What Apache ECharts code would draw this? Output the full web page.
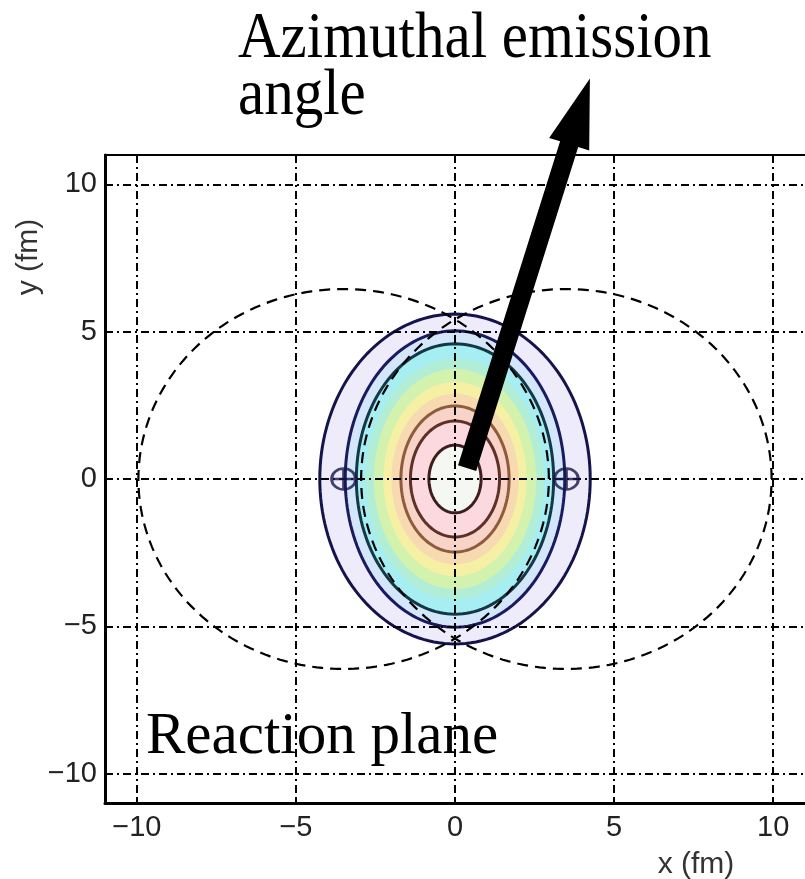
<!DOCTYPE html>
<html>
<head>
<meta charset="utf-8">
<title>Almond-shaped overlap region</title>
<script src="https://cdn.jsdelivr.net/npm/echarts@6/dist/echarts.min.js"></script>
<style>
  html, body { margin: 0; padding: 0; background: #fff; }
  #chart { width: 805px; height: 879px; }
</style>
</head>
<body>
<div id="chart"></div>
<script>
// Axis ticks (fm)
const xTicks = [-10, -5, 0, 5, 10];
const yTicks = [-10, -5, 0, 5, 10];
const axisMin = -11;
const axisMax = 11;

// Filled density bands of the overlap zone, outermost first: semi-axes along x and y (fm)
const bandA = [4.25, 3.45, 3.10, 2.80, 2.55, 2.25, 2.00, 1.70, 1.40, 0.82];
const bandB = [5.60, 5.03, 4.59, 4.08, 3.74, 3.30, 2.90, 2.48, 1.97, 1.15];
const bandColors = ['#eeebfa', '#d4e6fa', '#a6eef2', '#b2eed6', '#d2f2ae', '#f6f0a4',
                    '#f8dab2', '#f8d4c8', '#fbd9df', '#f5f7f3'];

// Contour lines drawn on top of the bands
const contourA = [4.25, 3.45, 3.10, 1.70, 1.40, 0.82];
const contourB = [5.60, 5.03, 4.59, 2.48, 1.97, 1.15];
const contourColors = ['#14144a', '#1a1a5e', '#123848', '#8e5c3c', '#5e3026', '#3c1e1c'];

// Colliding nuclei: centres on the x axis and radius (fm)
const nucleusX = [-3.5, 3.5];
const nucleusR = 6.45;

// Arrow marking the azimuthal emission direction: tail and tip (fm)
const arrowTail = [0.38, 0.37];
const arrowTip = [4.24, 13.6];

const minusSign = v => String(v).replace('-', '\u2212');

function ellipsePoints(api, cx, cy, a, b, n) {
  const pts = [];
  for (let k = 0; k < n; k++) {
    const t = 2 * Math.PI * k / n;
    pts.push(api.coord([cx + a * Math.cos(t), cy + b * Math.sin(t)]));
  }
  return pts;
}

const chart = echarts.init(document.getElementById('chart'), null, { renderer: 'canvas' });

const tickFont = { fontFamily: 'Liberation Sans', fontSize: 29, color: '#222' };
const gridLine = { show: true, lineStyle: { color: '#000', width: 2, type: [8, 4, 2, 4] } };

chart.setOption({
  animation: false,
  backgroundColor: '#fff',
  grid: { left: 105, top: 155, width: 700, height: 648 },
  xAxis: [{
    type: 'value', min: axisMin, max: axisMax, position: 'bottom', z: 5,
    axisLine: { show: true, onZero: false, lineStyle: { color: '#000', width: 3 } },
    axisTick: { show: true, inside: true, length: 5, customValues: xTicks, lineStyle: { color: '#000', width: 2 } },
    axisLabel: Object.assign({ customValues: xTicks, margin: 10, formatter: minusSign }, tickFont),
    splitLine: gridLine
  }, {
    type: 'value', min: axisMin, max: axisMax, position: 'top', z: 5,
    axisLine: { show: true, onZero: false, lineStyle: { color: '#000', width: 2 } },
    axisTick: { show: true, inside: true, length: 5, customValues: xTicks, lineStyle: { color: '#000', width: 2 } },
    axisLabel: { show: false },
    splitLine: { show: false }
  }],
  yAxis: [{
    type: 'value', min: axisMin, max: axisMax, position: 'left', z: 5,
    axisLine: { show: true, onZero: false, lineStyle: { color: '#000', width: 3 } },
    axisTick: { show: true, inside: true, length: 5, customValues: yTicks, lineStyle: { color: '#000', width: 2 } },
    axisLabel: Object.assign({ customValues: yTicks, margin: 8, formatter: minusSign }, tickFont),
    splitLine: gridLine
  }],
  series: [
    {
      // density bands
      type: 'custom', xAxisIndex: 0, yAxisIndex: 0, z: 1, clip: true, silent: true,
      data: bandA.map((a, i) => [a, bandB[i]]),
      renderItem: (params, api) => ({
        type: 'polygon',
        shape: { points: ellipsePoints(api, 0, 0, api.value(0), api.value(1), 160) },
        style: { fill: bandColors[params.dataIndex], stroke: null }
      })
    },
    {
      // contour lines
      type: 'custom', xAxisIndex: 0, yAxisIndex: 0, z: 2, clip: true, silent: true,
      data: contourA.map((a, i) => [a, contourB[i]]),
      renderItem: (params, api) => ({
        type: 'polygon',
        shape: { points: ellipsePoints(api, 0, 0, api.value(0), api.value(1), 160) },
        style: { fill: 'none', stroke: contourColors[params.dataIndex], lineWidth: 3 }
      })
    },
    {
      // nuclei outlines
      type: 'custom', xAxisIndex: 0, yAxisIndex: 0, z: 3, clip: true, silent: true,
      data: nucleusX.map(x => [x, 0]),
      renderItem: (params, api) => ({
        type: 'polygon',
        shape: { points: ellipsePoints(api, api.value(0), api.value(1), nucleusR, nucleusR, 240) },
        style: { fill: 'none', stroke: '#000', lineWidth: 2.2, lineDash: [11, 7] }
      })
    },
    {
      // nucleus centres
      type: 'scatter', xAxisIndex: 0, yAxisIndex: 0, z: 6, silent: true,
      data: nucleusX.map(x => [x, 0]),
      symbol: 'path://M0,10 A10,10 0 1,1 20,10 A10,10 0 1,1 0,10 Z M10,0 L10,20 M0,10 L20,10',
      symbolSize: [24, 21],
      itemStyle: { color: 'none', borderColor: '#16164a', borderWidth: 2.8 }
    },
    {
      // emission-angle arrow
      type: 'custom', xAxisIndex: 0, yAxisIndex: 0, z: 20, clip: false, silent: true,
      data: [[arrowTail[0], arrowTail[1], arrowTip[0], arrowTip[1]]],
      renderItem: (params, api) => {
        const p0 = api.coord([api.value(0), api.value(1)]);
        const p1 = api.coord([api.value(2), api.value(3)]);
        const dx = p1[0] - p0[0], dy = p1[1] - p0[1];
        const len = Math.hypot(dx, dy);
        const ux = dx / len, uy = dy / len;
        const px = -uy, py = ux;
        const headLen = 69, headHalf = 21, shaftHalf = 9.5;
        const bx = p1[0] - ux * headLen, by = p1[1] - uy * headLen;
        const pts = [
          [p0[0] + px * shaftHalf, p0[1] + py * shaftHalf],
          [bx + px * shaftHalf, by + py * shaftHalf],
          [bx + px * headHalf, by + py * headHalf],
          [p1[0], p1[1]],
          [bx - px * headHalf, by - py * headHalf],
          [bx - px * shaftHalf, by - py * shaftHalf],
          [p0[0] - px * shaftHalf, p0[1] - py * shaftHalf]
        ];
        return { type: 'polygon', shape: { points: pts }, style: { fill: '#000' } };
      }
    }
  ],
  graphic: [
    {
      type: 'text', x: 238, y: 11, scaleY: 1.1, z: 30,
      style: { text: 'Azimuthal emission\nangle', fontFamily: 'Liberation Serif', fontSize: 59,
               lineHeight: 52, fill: '#000', align: 'left', verticalAlign: 'top' }
    },
    {
      type: 'text', x: 146, y: 710, z: 30,
      style: { text: 'Reaction plane', fontFamily: 'Liberation Serif', fontSize: 59,
               lineHeight: 54, fill: '#000', align: 'left', verticalAlign: 'top' }
    },
    {
      type: 'text', x: 29, y: 257, rotation: Math.PI / 2, z: 30,
      style: { text: 'y (fm)', fontFamily: 'Liberation Sans', fontSize: 30, fill: '#333',
               align: 'center', verticalAlign: 'middle' }
    },
    {
      type: 'text', x: 696, y: 865, z: 30,
      style: { text: 'x (fm)', fontFamily: 'Liberation Sans', fontSize: 30, fill: '#333',
               align: 'center', verticalAlign: 'middle' }
    }
  ]
});
</script>
</body>
</html>
